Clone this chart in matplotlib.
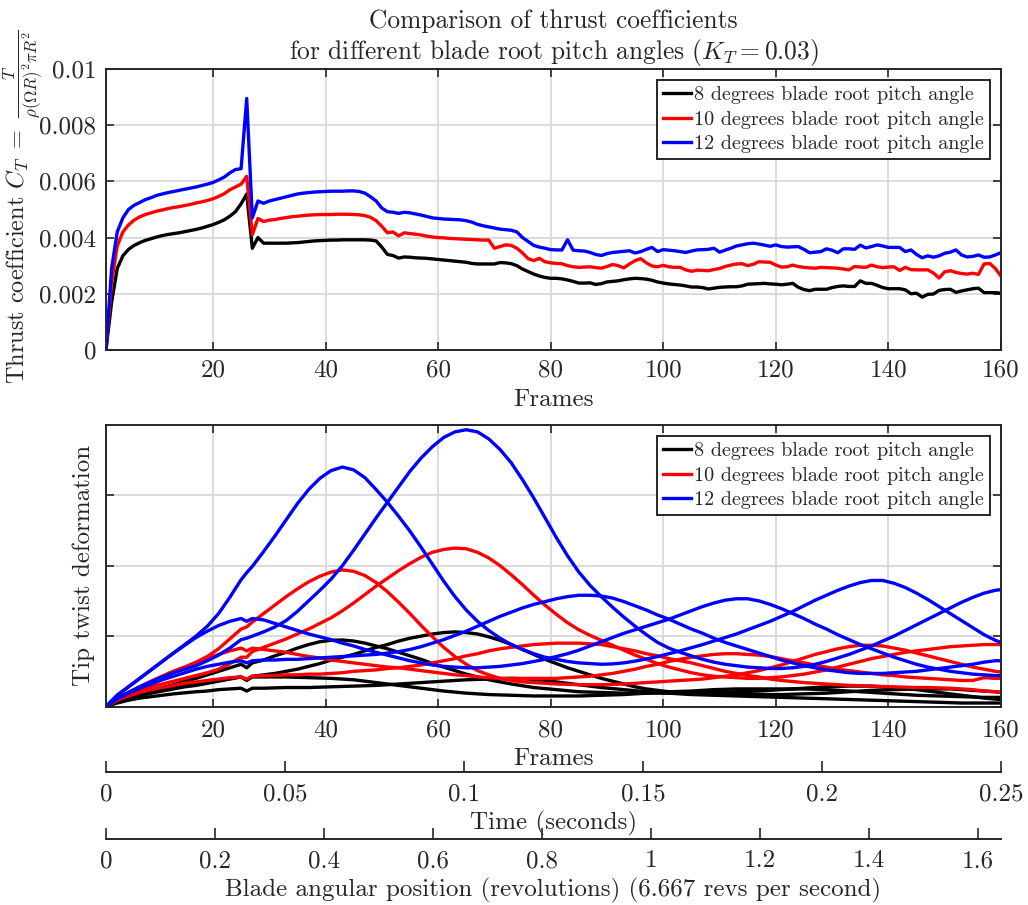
import numpy as np
import matplotlib
matplotlib.use('Agg')
import matplotlib.pyplot as plt

plt.rcParams['font.family'] = 'cmr10'
plt.rcParams['mathtext.fontset'] = 'cm'
plt.rcParams['axes.formatter.use_mathtext'] = True
plt.rcParams['axes.unicode_minus'] = False

# ---------------- data ----------------
series_labels = ['8 degrees blade root pitch angle',
                 '10 degrees blade root pitch angle',
                 '12 degrees blade root pitch angle']
series_colors = ['#000000', '#ff0000', '#0000ff']

frames_top = list(range(1, 161))

# thrust coefficient, in units of 1e-3
ct_8_e3 = [0, 1.7, 2.9, 3.35, 3.58, 3.72, 3.82, 3.9, 3.96, 4.02,
           4.07, 4.11, 4.14, 4.17, 4.21, 4.25, 4.29, 4.34, 4.4, 4.46,
           4.54, 4.63, 4.76, 4.92, 5.2, 5.55, 3.62, 4.0, 3.8, 3.8,
           3.8, 3.8, 3.8, 3.81, 3.82, 3.84, 3.86, 3.88, 3.89, 3.9,
           3.91, 3.91, 3.92, 3.92, 3.92, 3.92, 3.92, 3.91, 3.88, 3.66,
           3.4, 3.36, 3.27, 3.31, 3.3, 3.28, 3.27, 3.26, 3.24, 3.22,
           3.2, 3.18, 3.16, 3.14, 3.12, 3.08, 3.06, 3.06, 3.06, 3.06,
           3.11, 3.1, 3.07, 3.0, 2.88, 2.79, 2.7, 2.63, 2.58, 2.55,
           2.55, 2.53, 2.49, 2.44, 2.38, 2.38, 2.39, 2.33, 2.36, 2.42,
           2.44, 2.46, 2.5, 2.53, 2.55, 2.54, 2.52, 2.48, 2.42, 2.38,
           2.35, 2.33, 2.31, 2.28, 2.24, 2.24, 2.22, 2.17, 2.2, 2.23,
           2.24, 2.25, 2.25, 2.28, 2.34, 2.35, 2.36, 2.37, 2.35, 2.34,
           2.32, 2.34, 2.37, 2.23, 2.15, 2.11, 2.16, 2.16, 2.16, 2.22,
           2.26, 2.28, 2.26, 2.26, 2.46, 2.37, 2.37, 2.3, 2.22, 2.18,
           2.18, 2.18, 2.14, 2.0, 2.02, 1.88, 1.98, 1.99, 2.12, 2.15,
           2.16, 2.05, 2.1, 2.14, 2.18, 2.2, 2.04, 2.04, 2.04, 2.02]

ct_10_e3 = [0, 2.4, 3.7, 4.2, 4.45, 4.62, 4.74, 4.82, 4.88, 4.94,
            4.98, 5.03, 5.07, 5.1, 5.14, 5.18, 5.23, 5.27, 5.32, 5.38,
            5.46, 5.56, 5.7, 5.8, 5.9, 6.18, 4.1, 4.68, 4.57, 4.62,
            4.64, 4.68, 4.71, 4.74, 4.76, 4.78, 4.8, 4.81, 4.82, 4.82,
            4.82, 4.83, 4.83, 4.83, 4.82, 4.81, 4.78, 4.72, 4.6, 4.4,
            4.17, 4.2, 4.06, 4.17, 4.14, 4.12, 4.09, 4.05, 4.02, 4.0,
            3.99, 3.97, 3.96, 3.95, 3.94, 3.93, 3.92, 3.91, 3.91, 3.62,
            3.68, 3.74, 3.72, 3.62, 3.45, 3.25, 3.18, 3.26, 3.14, 3.1,
            3.08, 3.07, 3.0, 2.96, 2.94, 2.95, 2.96, 2.93, 2.91, 2.97,
            3.04, 3.0, 2.92, 3.06, 3.18, 3.25, 3.1, 2.99, 2.96, 3.01,
            2.96, 2.94, 2.94, 2.85, 2.8, 2.84, 2.83, 2.82, 2.86, 2.9,
            2.97, 3.02, 3.06, 3.07, 3.0, 3.05, 3.14, 3.13, 3.12, 3.02,
            2.95, 2.96, 3.02, 2.97, 2.94, 2.92, 2.91, 2.94, 2.93, 2.92,
            2.91, 2.88, 2.85, 2.97, 2.95, 2.94, 3.02, 2.96, 2.93, 2.95,
            2.96, 2.83, 2.94, 2.86, 2.85, 2.85, 2.85, 2.74, 2.56, 2.78,
            2.82, 2.76, 2.72, 2.7, 2.73, 2.69, 3.06, 3.08, 2.9, 2.63]

ct_12_e3 = [0, 2.9, 4.2, 4.7, 5.0, 5.15, 5.25, 5.35, 5.42, 5.5,
            5.55, 5.6, 5.64, 5.68, 5.72, 5.76, 5.8, 5.85, 5.9, 5.96,
            6.05, 6.15, 6.3, 6.42, 6.45, 8.95, 4.7, 5.3, 5.22, 5.3,
            5.35, 5.4, 5.45, 5.5, 5.55, 5.58, 5.6, 5.62, 5.63, 5.64,
            5.65, 5.65, 5.65, 5.66, 5.66, 5.64, 5.58, 5.45, 5.3, 5.05,
            4.92, 4.9, 4.86, 4.9, 4.88, 4.84, 4.8, 4.75, 4.7, 4.68,
            4.66, 4.65, 4.64, 4.63, 4.6, 4.55, 4.47, 4.42, 4.38, 4.34,
            4.3, 4.28, 4.26, 4.2, 4.0, 3.86, 3.72, 3.66, 3.62, 3.57,
            3.56, 3.56, 3.92, 3.55, 3.53, 3.52, 3.47, 3.4, 3.36, 3.43,
            3.47, 3.49, 3.51, 3.53, 3.45, 3.5, 3.58, 3.65, 3.5, 3.57,
            3.55, 3.53, 3.5, 3.47, 3.52, 3.56, 3.57, 3.58, 3.62, 3.48,
            3.55, 3.62, 3.7, 3.74, 3.78, 3.8, 3.77, 3.73, 3.69, 3.74,
            3.68, 3.66, 3.67, 3.68, 3.58, 3.46, 3.48, 3.5, 3.6, 3.55,
            3.46, 3.6, 3.6, 3.58, 3.73, 3.63, 3.68, 3.74, 3.7, 3.65,
            3.65, 3.65, 3.5, 3.56, 3.4, 3.28, 3.35, 3.3, 3.35, 3.44,
            3.48, 3.56, 3.38, 3.31, 3.33, 3.38, 3.3, 3.31, 3.38, 3.46]

# tip twist deformation (arbitrary units), 4 blades per pitch angle
frames_bot = list(range(1, 26, 2)) + [26] + list(range(27, 160, 2)) + [160]

tw8_a = [0, 0.07, 0.12, 0.16, 0.20, 0.24, 0.27, 0.30, 0.33, 0.36, 0.38, 0.40, 0.42, 0.37,
         0.42, 0.42, 0.42, 0.42, 0.415, 0.41, 0.405, 0.40, 0.39, 0.38, 0.36, 0.34, 0.32, 0.30,
         0.28, 0.26, 0.24, 0.22, 0.205, 0.19, 0.18, 0.17, 0.165, 0.16, 0.155, 0.15, 0.15, 0.15,
         0.15, 0.15, 0.155, 0.16, 0.165, 0.17, 0.18, 0.19, 0.20, 0.21, 0.215, 0.22, 0.23, 0.24,
         0.245, 0.25, 0.25, 0.25, 0.25, 0.25, 0.25, 0.25, 0.245, 0.24, 0.23, 0.22, 0.21, 0.20,
         0.19, 0.18, 0.17, 0.16, 0.155, 0.15, 0.145, 0.14, 0.135, 0.13, 0.13, 0.13]
tw8_b = [0, 0.08, 0.13, 0.18, 0.22, 0.27, 0.31, 0.36, 0.40, 0.45, 0.50, 0.55, 0.60, 0.55,
         0.62, 0.66, 0.72, 0.77, 0.83, 0.88, 0.92, 0.94, 0.945, 0.93, 0.90, 0.86, 0.82, 0.77,
         0.72, 0.67, 0.61, 0.56, 0.51, 0.46, 0.42, 0.38, 0.35, 0.32, 0.295, 0.27, 0.255, 0.24,
         0.225, 0.21, 0.205, 0.20, 0.195, 0.19, 0.19, 0.19, 0.19, 0.19, 0.19, 0.19, 0.195, 0.20,
         0.205, 0.21, 0.215, 0.22, 0.23, 0.24, 0.25, 0.26, 0.27, 0.28, 0.285, 0.29, 0.29, 0.29,
         0.28, 0.27, 0.255, 0.24, 0.22, 0.20, 0.18, 0.16, 0.14, 0.12, 0.105, 0.10]
tw8_c = [0, 0.07, 0.11, 0.15, 0.19, 0.22, 0.25, 0.28, 0.30, 0.33, 0.36, 0.39, 0.42, 0.38,
         0.43, 0.45, 0.47, 0.50, 0.53, 0.57, 0.61, 0.66, 0.70, 0.74, 0.79, 0.84, 0.88, 0.93,
         0.97, 1.00, 1.03, 1.05, 1.06, 1.05, 1.03, 0.99, 0.94, 0.88, 0.81, 0.74, 0.67, 0.61,
         0.55, 0.50, 0.45, 0.40, 0.36, 0.32, 0.28, 0.25, 0.23, 0.21, 0.20, 0.19, 0.185, 0.18,
         0.175, 0.17, 0.17, 0.17, 0.17, 0.17, 0.175, 0.18, 0.185, 0.19, 0.20, 0.21, 0.22, 0.23,
         0.235, 0.24, 0.245, 0.25, 0.25, 0.25, 0.25, 0.24, 0.23, 0.22, 0.21, 0.20]
tw8_d = [0, 0.05, 0.09, 0.12, 0.14, 0.16, 0.18, 0.195, 0.21, 0.22, 0.24, 0.25, 0.26, 0.22,
         0.26, 0.26, 0.265, 0.27, 0.27, 0.27, 0.275, 0.28, 0.285, 0.29, 0.295, 0.30, 0.31, 0.32,
         0.33, 0.34, 0.35, 0.36, 0.37, 0.38, 0.385, 0.39, 0.395, 0.40, 0.395, 0.385, 0.37, 0.35,
         0.33, 0.31, 0.29, 0.27, 0.255, 0.24, 0.225, 0.21, 0.20, 0.19, 0.18, 0.17, 0.165, 0.16,
         0.155, 0.15, 0.145, 0.14, 0.135, 0.13, 0.125, 0.12, 0.115, 0.11, 0.105, 0.10, 0.095, 0.09,
         0.085, 0.08, 0.075, 0.07, 0.065, 0.06, 0.055, 0.05, 0.05, 0.05, 0.05, 0.05]

tw10_a = [0, 0.12, 0.20, 0.28, 0.35, 0.43, 0.50, 0.56, 0.62, 0.68, 0.74, 0.79, 0.83, 0.79,
          0.83, 0.81, 0.79, 0.77, 0.74, 0.71, 0.69, 0.66, 0.64, 0.62, 0.60, 0.58, 0.56, 0.55,
          0.53, 0.51, 0.49, 0.47, 0.45, 0.44, 0.42, 0.41, 0.40, 0.40, 0.40, 0.40, 0.40, 0.40,
          0.41, 0.42, 0.43, 0.45, 0.47, 0.50, 0.53, 0.57, 0.60, 0.64, 0.67, 0.70, 0.72, 0.74,
          0.75, 0.75, 0.74, 0.73, 0.71, 0.68, 0.65, 0.62, 0.59, 0.56, 0.53, 0.51, 0.49, 0.47,
          0.45, 0.44, 0.42, 0.41, 0.40, 0.39, 0.38, 0.37, 0.37, 0.41, 0.40, 0.40]
tw10_b = [0, 0.12, 0.20, 0.28, 0.36, 0.43, 0.50, 0.56, 0.63, 0.71, 0.82, 0.96, 1.10, 1.13,
          1.20, 1.32, 1.44, 1.56, 1.67, 1.77, 1.85, 1.91, 1.94, 1.92, 1.86, 1.76, 1.63, 1.48,
          1.32, 1.15, 0.99, 0.84, 0.71, 0.60, 0.51, 0.45, 0.40, 0.37, 0.35, 0.34, 0.33, 0.32,
          0.315, 0.31, 0.31, 0.31, 0.315, 0.32, 0.33, 0.34, 0.35, 0.36, 0.37, 0.38, 0.39, 0.41,
          0.43, 0.45, 0.48, 0.51, 0.55, 0.59, 0.64, 0.69, 0.74, 0.78, 0.82, 0.85, 0.87, 0.87,
          0.86, 0.83, 0.80, 0.76, 0.72, 0.68, 0.64, 0.60, 0.56, 0.53, 0.50, 0.49]
tw10_c = [0, 0.10, 0.17, 0.23, 0.28, 0.32, 0.36, 0.40, 0.44, 0.48, 0.53, 0.61, 0.70, 0.70,
          0.78, 0.84, 0.90, 0.96, 1.03, 1.10, 1.18, 1.26, 1.36, 1.47, 1.59, 1.71, 1.82, 1.93,
          2.03, 2.12, 2.19, 2.23, 2.25, 2.24, 2.19, 2.11, 2.00, 1.87, 1.73, 1.58, 1.44, 1.31,
          1.19, 1.09, 1.01, 0.94, 0.87, 0.80, 0.73, 0.67, 0.61, 0.56, 0.52, 0.48, 0.45, 0.43,
          0.42, 0.41, 0.40, 0.40, 0.41, 0.42, 0.44, 0.46, 0.49, 0.52, 0.56, 0.60, 0.64, 0.68,
          0.71, 0.74, 0.77, 0.79, 0.81, 0.83, 0.85, 0.86, 0.87, 0.88, 0.88, 0.88]
tw10_d = [0, 0.09, 0.15, 0.20, 0.24, 0.27, 0.30, 0.33, 0.35, 0.37, 0.39, 0.41, 0.42, 0.39,
          0.43, 0.44, 0.44, 0.45, 0.45, 0.46, 0.46, 0.47, 0.48, 0.50, 0.51, 0.52, 0.54, 0.55,
          0.57, 0.59, 0.62, 0.65, 0.68, 0.72, 0.75, 0.79, 0.82, 0.84, 0.86, 0.88, 0.89, 0.90,
          0.90, 0.90, 0.89, 0.88, 0.85, 0.82, 0.79, 0.75, 0.72, 0.68, 0.65, 0.62, 0.58, 0.54,
          0.50, 0.47, 0.44, 0.42, 0.39, 0.37, 0.355, 0.34, 0.33, 0.32, 0.31, 0.30, 0.295, 0.29,
          0.285, 0.28, 0.275, 0.27, 0.27, 0.265, 0.26, 0.25, 0.24, 0.22, 0.21, 0.20]

tw12_a = [0, 0.16, 0.28, 0.40, 0.52, 0.64, 0.76, 0.87, 0.98, 1.07, 1.15, 1.21, 1.25, 1.21,
          1.25, 1.23, 1.18, 1.13, 1.08, 1.03, 0.99, 0.95, 0.90, 0.86, 0.81, 0.77, 0.73, 0.69,
          0.65, 0.62, 0.59, 0.57, 0.56, 0.55, 0.55, 0.56, 0.57, 0.59, 0.61, 0.64, 0.67, 0.71,
          0.75, 0.80, 0.86, 0.92, 0.98, 1.04, 1.09, 1.14, 1.19, 1.24, 1.30, 1.36, 1.42, 1.47,
          1.51, 1.53, 1.53, 1.50, 1.45, 1.39, 1.32, 1.25, 1.17, 1.10, 1.02, 0.95, 0.88, 0.82,
          0.76, 0.70, 0.65, 0.60, 0.56, 0.53, 0.50, 0.48, 0.46, 0.45, 0.44, 0.44]
tw12_b = [0, 0.16, 0.28, 0.40, 0.52, 0.64, 0.76, 0.88, 1.00, 1.14, 1.32, 1.55, 1.80, 1.90,
          1.99, 2.20, 2.42, 2.65, 2.88, 3.08, 3.24, 3.35, 3.40, 3.36, 3.25, 3.08, 2.90, 2.70,
          2.49, 2.26, 2.02, 1.78, 1.56, 1.37, 1.21, 1.08, 0.97, 0.88, 0.81, 0.75, 0.70, 0.67,
          0.64, 0.62, 0.61, 0.60, 0.605, 0.62, 0.645, 0.675, 0.71, 0.75, 0.79, 0.835, 0.88, 0.93,
          0.98, 1.03, 1.09, 1.15, 1.21, 1.28, 1.35, 1.43, 1.51, 1.58, 1.65, 1.71, 1.76, 1.79,
          1.79, 1.75, 1.69, 1.61, 1.52, 1.42, 1.32, 1.22, 1.12, 1.02, 0.94, 0.91]
tw12_c = [0, 0.12, 0.20, 0.28, 0.35, 0.42, 0.48, 0.53, 0.58, 0.65, 0.73, 0.83, 0.95, 0.97,
          1.00, 1.06, 1.13, 1.22, 1.35, 1.50, 1.65, 1.81, 2.00, 2.22, 2.45, 2.68, 2.90, 3.12,
          3.34, 3.53, 3.69, 3.82, 3.90, 3.93, 3.90, 3.80, 3.65, 3.46, 3.22, 2.96, 2.68, 2.40,
          2.14, 1.91, 1.72, 1.56, 1.41, 1.27, 1.14, 1.02, 0.91, 0.83, 0.77, 0.72, 0.67, 0.63,
          0.60, 0.58, 0.56, 0.55, 0.54, 0.54, 0.55, 0.57, 0.60, 0.64, 0.69, 0.74, 0.80, 0.86,
          0.93, 1.00, 1.08, 1.16, 1.24, 1.32, 1.40, 1.48, 1.55, 1.61, 1.65, 1.66]
tw12_d = [0, 0.11, 0.19, 0.26, 0.32, 0.38, 0.43, 0.48, 0.53, 0.57, 0.60, 0.63, 0.65, 0.62,
          0.65, 0.66, 0.66, 0.67, 0.67, 0.68, 0.69, 0.70, 0.71, 0.72, 0.73, 0.74, 0.76, 0.78,
          0.81, 0.85, 0.90, 0.95, 1.01, 1.07, 1.14, 1.21, 1.28, 1.34, 1.40, 1.45, 1.49, 1.53,
          1.56, 1.58, 1.58, 1.57, 1.54, 1.49, 1.43, 1.37, 1.30, 1.24, 1.17, 1.10, 1.04, 0.97,
          0.91, 0.86, 0.81, 0.76, 0.71, 0.66, 0.62, 0.58, 0.55, 0.52, 0.50, 0.48, 0.47, 0.47,
          0.47, 0.48, 0.49, 0.50, 0.52, 0.54, 0.56, 0.58, 0.60, 0.63, 0.65, 0.65]

twist_groups = [[tw8_a, tw8_b, tw8_c, tw8_d],
                [tw10_a, tw10_b, tw10_c, tw10_d],
                [tw12_a, tw12_b, tw12_c, tw12_d]]

top_yticks = [0, 0.002, 0.004, 0.006, 0.008, 0.01]
top_yticklabels = ['0', '0.002', '0.004', '0.006', '0.008', '0.01']
frame_ticks = [20, 40, 60, 80, 100, 120, 140, 160]
time_ticks = [0, 0.05, 0.1, 0.15, 0.2, 0.25]
time_ticklabels = ['0', '0.05', '0.1', '0.15', '0.2', '0.25']
rev_ticks = [0, 0.2, 0.4, 0.6, 0.8, 1.0, 1.2, 1.4, 1.6]
rev_ticklabels = ['0', '0.2', '0.4', '0.6', '0.8', '1', '1.2', '1.4', '1.6']
time_max = 0.25
rev_max = 1.642

# ---------------- style ----------------
TXT = '#262626'
GRID = '#d9d9d9'
FS_TICK = 18
FS_LAB = 18
FS_TITLE = 18.3
FS_YLAB = 17.5
FS_LEG = 14.5
LW = 2.4

fig = plt.figure(figsize=(10.28, 9.05), dpi=100)

L, W = 0.1031, 0.8706
ax1 = fig.add_axes([L, 0.6133, W, 0.3105])
ax2 = fig.add_axes([L, 0.2193, W, 0.3113])


def style_axes(ax, pad):
    for s in ax.spines.values():
        s.set_color(TXT)
        s.set_linewidth(1.4)
    ax.tick_params(direction='in', top=True, right=True, length=6, width=1.2,
                   colors=TXT, labelsize=FS_TICK, pad=pad)
    ax.grid(True, color=GRID, linewidth=1.3)
    ax.set_axisbelow(True)


# top chart
ct_series = [ct_8_e3, ct_10_e3, ct_12_e3]
for vals, c, lab in zip(ct_series, series_colors, series_labels):
    ax1.plot(frames_top, np.array(vals) * 1e-3, color=c, lw=LW, label=lab,
             solid_joinstyle='round')
ax1.set_xlim(1, 160)
ax1.set_ylim(0, 0.01)
ax1.set_xticks(frame_ticks)
ax1.set_xticklabels([str(t) for t in frame_ticks])
ax1.set_yticks(top_yticks)
ax1.set_yticklabels(top_yticklabels)
style_axes(ax1, 7)
ax1.set_xlabel('Frames', fontsize=FS_LAB, color=TXT, labelpad=5)
ax1.set_ylabel(r'Thrust coefficient $C_T\ =\ \frac{T}{\rho(\Omega R)^2\pi R^2}$',
               fontsize=FS_YLAB, color=TXT)
ax1.yaxis.set_label_coords(-0.0685, 0.51)
ax1.set_title('Comparison of thrust coefficients\n'
              r'for different blade root pitch angles ($K_T = 0.03$)',
              fontsize=FS_TITLE, color=TXT, pad=7, linespacing=1.2)


def add_legend(ax, handles):
    leg = ax.legend(handles=handles, loc='upper right', fontsize=FS_LEG,
                    frameon=True, fancybox=False, framealpha=1,
                    edgecolor=TXT, handlelength=1.4, handletextpad=0.15,
                    labelspacing=0.32, borderpad=0.3, borderaxespad=0.55)
    leg.get_frame().set_linewidth(1.4)
    for t in leg.get_texts():
        t.set_color(TXT)
    return leg


add_legend(ax1, ax1.get_lines()[:3])

# bottom chart
handles = []
for group, c, lab in zip(twist_groups, series_colors, series_labels):
    for i, vals in enumerate(group):
        assert len(vals) == len(frames_bot), (lab, i, len(vals))
        ln, = ax2.plot(frames_bot, vals, color=c, lw=LW,
                       label=lab if i == 0 else None, solid_joinstyle='round')
        if i == 0:
            handles.append(ln)
ax2.set_xlim(1, 160)
ax2.set_ylim(0, 4)
ax2.set_xticks(frame_ticks)
ax2.set_xticklabels([str(t) for t in frame_ticks])
ax2.set_yticks([0, 1, 2, 3])
ax2.set_yticklabels([])
style_axes(ax2, 9)
ax2.set_xlabel('Frames', fontsize=FS_LAB, color=TXT, labelpad=5)
ax2.set_ylabel('Tip twist deformation', fontsize=FS_LAB, color=TXT)
ax2.yaxis.set_label_coords(-0.012, 0.5)
add_legend(ax2, handles)


def extra_axis(y, xmax, ticks, labels, title):
    ax = fig.add_axes([L, y, W, 1e-4])
    ax.patch.set_alpha(0)
    for k in ('left', 'right', 'top'):
        ax.spines[k].set_visible(False)
    ax.spines['bottom'].set_color(TXT)
    ax.spines['bottom'].set_linewidth(1.4)
    ax.set_xlim(0, xmax)
    ax.set_yticks([])
    ax.set_xticks(ticks)
    ax.set_xticklabels(labels)
    ax.tick_params(axis='x', direction='in', length=8, width=1.2, colors=TXT,
                   labelsize=FS_TICK, pad=8)
    ax.set_xlabel(title, fontsize=FS_LAB, color=TXT, labelpad=4)
    return ax


extra_axis(0.1470, time_max, time_ticks, time_ticklabels, 'Time (seconds)')
extra_axis(0.0729, rev_max, rev_ticks, rev_ticklabels,
           'Blade angular position (revolutions) (6.667 revs per second)')

fig.savefig('out.png', dpi=100)
